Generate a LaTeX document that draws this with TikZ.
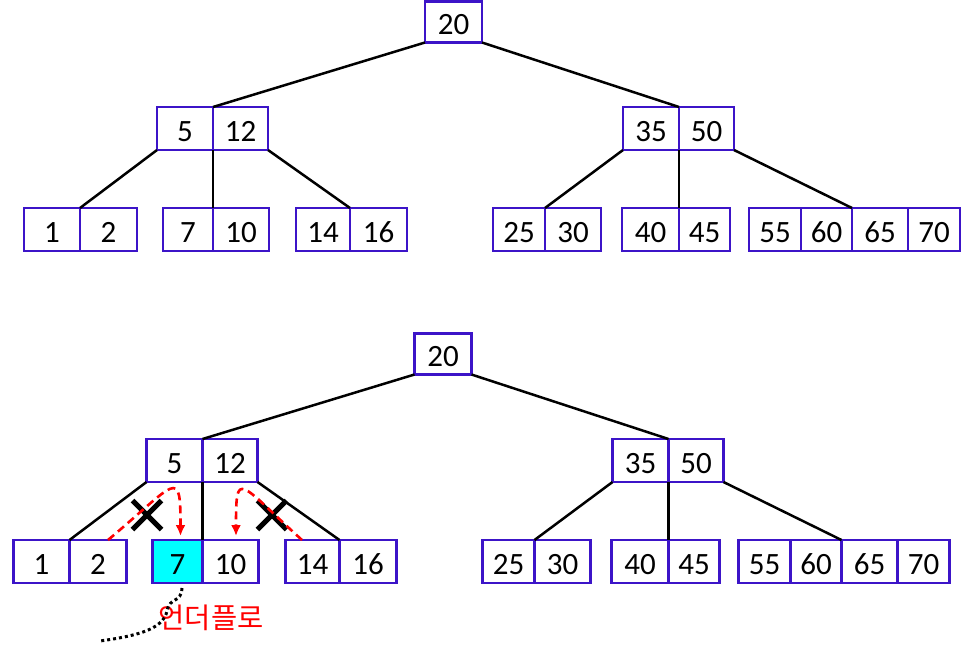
\documentclass[tikz,border=0pt]{standalone}
\usepackage{fontspec}
\setmainfont{Carlito}
\newfontfamily\kofont{Noto Sans CJK KR}
\usetikzlibrary{arrows.meta,positioning,shapes.misc}
\definecolor{keyblue}{RGB}{60,20,200}
\definecolor{undercyan}{RGB}{0,255,255}

\tikzset{
  cell/.style={draw=keyblue,line width=2.6pt,fill=white,minimum height=43pt,
    minimum width=56pt,inner sep=0pt,outer sep=0pt,text height=25pt,text depth=0pt,
    font=\fontsize{31}{33}\selectfont},
  link/.style={line width=2.5pt,black},
  moveline/.style={red,line width=2.6pt,dash pattern=on 8pt off 5pt,
    -{Latex[length=11pt,width=10pt]}},
  blocked/.style={draw,cross out,line width=5pt,minimum size=24pt,inner sep=0pt},
  trailline/.style={black,line width=3pt,dash pattern=on 3pt off 3pt}
}

% one B-tree: #1 name prefix, #2 shift, #3 extra style of the key 7
\newcommand\drawbtree[3]{%
\begin{scope}[shift={#2}]
\node[cell,anchor=north west,minimum width=57pt,minimum height=41pt] (#1root) at (425,1.5) {20};
\node[cell,anchor=north west] (#1n5) at (157,107) {5};
\node[cell,right=0pt of #1n5,minimum width=55pt] (#1n12) {12};
\node[cell,anchor=north west] (#1n35) at (623,107) {35};
\node[cell,right=0pt of #1n35,minimum width=55pt] (#1n50) {50};
% leaves
\node[cell,anchor=north west] (#1l1) at (24,208) {1};
\node[cell,right=0pt of #1l1,minimum width=57pt] (#1l2) {2};
\node[cell,anchor=north west,minimum width=50pt,#3] (#1l7) at (163,208) {7};
\node[cell,right=0pt of #1l7] (#1l10) {10};
\node[cell,anchor=north west,minimum width=54pt] (#1l14) at (296,208) {14};
\node[cell,right=0pt of #1l14,minimum width=57pt] (#1l16) {16};
\node[cell,anchor=north west,minimum width=52pt] (#1l25) at (493,208) {25};
\node[cell,right=0pt of #1l25] (#1l30) {30};
\node[cell,anchor=north west,minimum width=57pt] (#1l40) at (622,208) {40};
\node[cell,right=0pt of #1l40,minimum width=51pt] (#1l45) {45};
\node[cell,anchor=north west,minimum width=52pt] (#1l55) at (749,208) {55};
\node[cell,right=0pt of #1l55,minimum width=51pt] (#1l60) {60};
\node[cell,right=0pt of #1l60] (#1l65) {65};
\node[cell,right=0pt of #1l65,minimum width=52pt] (#1l70) {70};
% links
\draw[link] (#1root.south west) -- (#1n5.north east);
\draw[link] (#1root.south east) -- (#1n35.north east);
\draw[link] (#1n5.south west) -- (#1l1.north east);
\draw[link] (#1n5.south east) -- (#1l7.north east);
\draw[link] (#1n12.south east) -- (#1l14.north east);
\draw[link] (#1n35.south west) -- (#1l25.north east);
\draw[link] (#1n35.south east) -- (#1l40.north east);
\draw[link] (#1n50.south east) -- (#1l60.north east);
\end{scope}}

\begin{document}
\begin{tikzpicture}[x=1pt,y=-1pt]
\useasboundingbox (0,0) rectangle (973,649);

\drawbtree{t}{(0,0)}{}
\drawbtree{b}{(-10.5,332)}{fill=undercyan}

% borrowing from the siblings is not possible
\node[blocked] (xleft) at (147,515) {};
\node[blocked] (xright) at (272,515) {};
\draw[moveline] ([xshift=10pt]bl2.north) .. controls +(69,-58) and +(0,-70) ..
  ([xshift=3pt,yshift=4pt]bl7.north);
\draw[moveline] ([xshift=-10.5pt]bl14.north) .. controls +(-64,-58) and +(0,-68) ..
  ([xshift=5.5pt,yshift=4pt]bl10.north);

\node[text=red,font=\kofont\fontsize{28.5}{30}\selectfont] (under) at (211,618) {언더플로};
\coordinate (trail) at (100,641);
\draw[trailline] ([xshift=4.5pt,yshift=-5pt]bl7.south) .. controls +(-1,16) and (170,596) ..
  (167,611) .. controls (163,630) and (135,636) .. (trail);
\end{tikzpicture}
\end{document}
